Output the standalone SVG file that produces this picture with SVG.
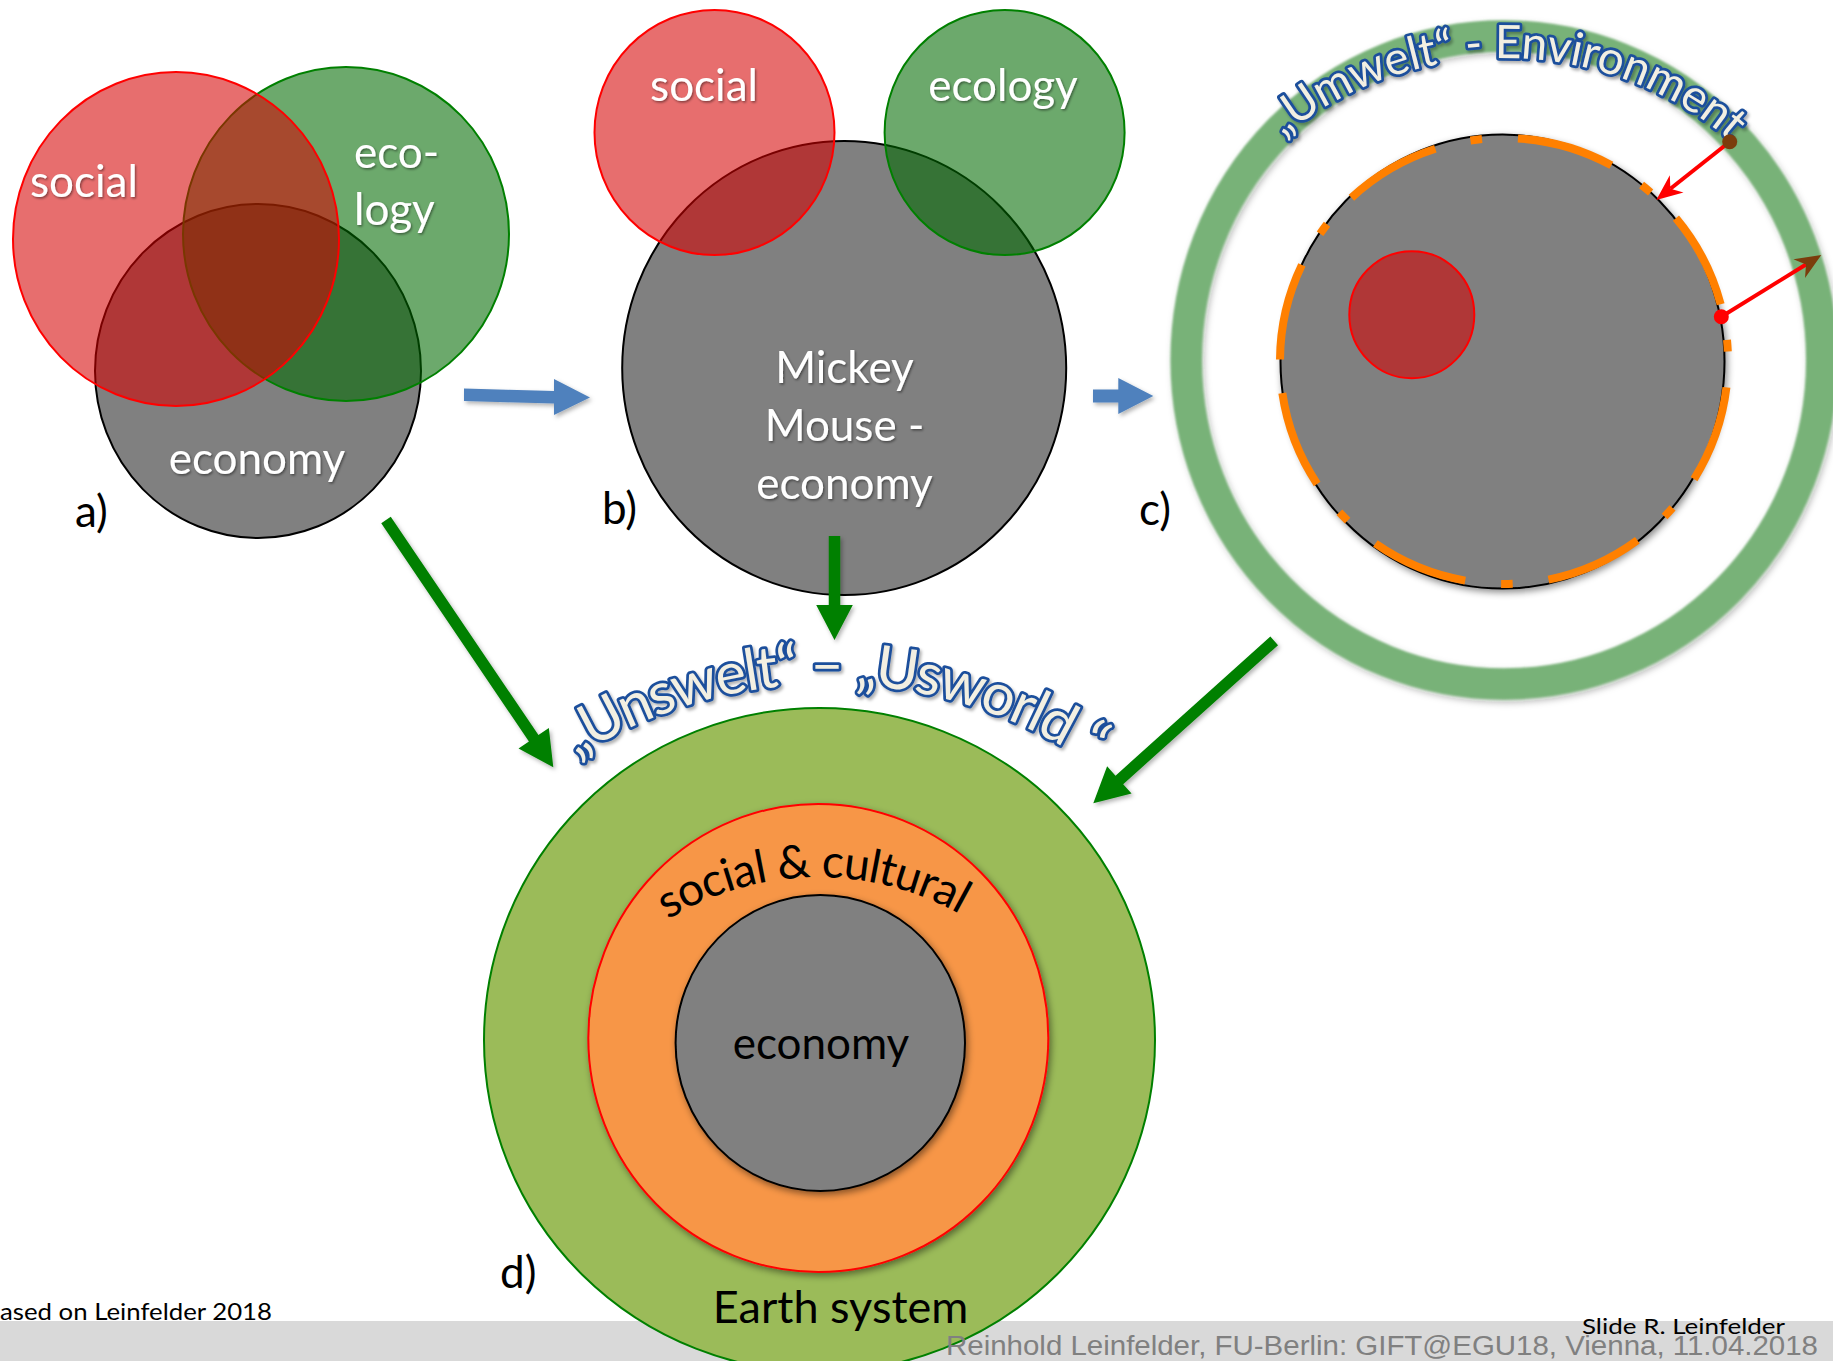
<svg xmlns="http://www.w3.org/2000/svg" width="1833" height="1361" viewBox="0 0 1833 1361">
  <defs>
    <style>
      .t{font-family:Lato,"Open Sans","DejaVu Sans",sans-serif}
      .lab{font-size:44px}
      .w{fill:#fff;filter:url(#ts)}
      .k{fill:#000}
      .gray{fill:#808080;stroke:#000;stroke-width:2}
      .red{fill:#d50000;fill-opacity:.567;stroke:#ff0000;stroke-width:2}
      .grn{fill:#006900;fill-opacity:.575;stroke:#008000;stroke-width:2}
      .blue{fill:#4f81bd;filter:url(#as)}
      .green{fill:#008000;filter:url(#as)}
      .arc{fill:#f2efe2;stroke:#1d4f9c;stroke-width:5.5;paint-order:stroke;stroke-linejoin:round;filter:url(#ts2)}
      .foot{font-family:"Liberation Sans",Arial,sans-serif}
    </style>
    <filter id="ts" x="-10%" y="-30%" width="130%" height="160%">
      <feDropShadow dx="1.2" dy="1.5" stdDeviation="1.2" flood-color="#000" flood-opacity="0.45"/>
    </filter>
    <filter id="ts2" x="-10%" y="-30%" width="130%" height="160%">
      <feDropShadow dx="2" dy="2.5" stdDeviation="1.5" flood-color="#000" flood-opacity="0.3"/>
    </filter>
    <filter id="as" x="-20%" y="-20%" width="150%" height="150%">
      <feDropShadow dx="2" dy="2.5" stdDeviation="2" flood-color="#000" flood-opacity="0.3"/>
    </filter>
    <filter id="sh" x="-10%" y="-10%" width="125%" height="125%">
      <feDropShadow dx="2" dy="3" stdDeviation="3.5" flood-color="#000" flood-opacity="0.45"/>
    </filter>
    <filter id="ringfx" x="-10%" y="-10%" width="125%" height="125%">
      <feGaussianBlur in="SourceGraphic" stdDeviation="1.2" result="s"/>
      <feDropShadow in="s" dx="2" dy="3" stdDeviation="3" flood-color="#000" flood-opacity="0.28"/>
    </filter>
    <path id="arcUmwelt" d="M 1283 137 A 328 302 0 0 1 1755.3 165.9"/>
    <path id="arcUnswelt" d="M 576.2 757.2 A 470 470 0 0 1 1117.4 783.6"/>
    <path id="arcSocial" d="M 667.8 919.5 A 288 288 0 0 1 1003.1 944.4"/>
  </defs>

  <rect width="1833" height="1361" fill="#fff"/>

  <!-- footer band -->
  <rect id="footer-band" x="0" y="1321" width="1833" height="40" fill="#d9d9d9"/>

  <!-- a) overlapping spheres -->
  <g id="node-a">
    <ellipse class="gray" cx="258" cy="371" rx="163" ry="167"/>
    <ellipse class="grn" cx="346" cy="234" rx="163" ry="167"/>
    <ellipse class="red" cx="176" cy="239" rx="163" ry="167"/>
    <text class="t lab w" x="30" y="197">social</text>
    <text class="t lab w" x="354" y="168">eco-</text>
    <text class="t lab w" x="354" y="225">logy</text>
    <text class="t lab w" x="257" y="474" text-anchor="middle">economy</text>
    <text class="t lab k" x="75" y="527">a)</text>
  </g>

  <!-- b) Mickey Mouse economy -->
  <g id="node-b">
    <ellipse class="gray" cx="844.2" cy="368" rx="222" ry="227"/>
    <ellipse class="red" cx="714.5" cy="132.5" rx="120" ry="122.6"/>
    <ellipse class="grn" cx="1004.6" cy="132.5" rx="120" ry="122.6"/>
    <text class="t lab w" x="704" y="101" text-anchor="middle">social</text>
    <text class="t lab w" x="1003" y="101" text-anchor="middle">ecology</text>
    <text class="t lab w" x="844.5" y="383" text-anchor="middle">Mickey</text>
    <text class="t lab w" x="844.5" y="441" text-anchor="middle">Mouse -</text>
    <text class="t lab w" x="844.5" y="499" text-anchor="middle">economy</text>
    <text class="t lab k" x="602" y="524">b)</text>
  </g>

  <!-- c) environment ring -->
  <g id="node-c">
    <ellipse cx="1504" cy="360" rx="317.8" ry="324" fill="none" stroke="#78b278" stroke-width="31.5" filter="url(#ringfx)"/>
    <ellipse class="gray" cx="1502.5" cy="361.5" rx="222" ry="227" stroke-width="1.5" filter="url(#sh)"/>
    <path d="M 1280 361 A 224 223 0 1 1 1728 361 A 224 223 0 1 1 1280 361" pathLength="360" fill="none" stroke="#ff8000" stroke-width="8" stroke-dasharray="25.1 9.25 3 9.25" stroke-dashoffset="-0.4"/>
    <ellipse class="red" cx="1411.8" cy="314.7" rx="62.5" ry="63.5"/>
    <text class="t arc" font-size="46"><textPath href="#arcUmwelt" textLength="486" lengthAdjust="spacing">„Umwelt“ - Environment</textPath></text>
    <g id="c-flows">
      <line x1="1729.7" y1="141.7" x2="1670.4" y2="188.8" stroke="#ff0000" stroke-width="4"/>
      <polygon points="1656.3,200 1669.8,175.2 1670.4,188.8 1683.5,192.4" fill="#ff0000"/>
      <circle cx="1729.7" cy="141.7" r="7.5" fill="#7b3d0c"/>
      <line x1="1721.3" y1="316.7" x2="1806" y2="264.5" stroke="#ff0000" stroke-width="4"/>
      <polygon points="1821.3,255 1793.4,259.3 1806,264.5 1805,278" fill="#7b3d0c"/>
      <circle cx="1721.3" cy="316.7" r="7.5" fill="#ff0000"/>
    </g>
    <text class="t lab k" x="1139" y="525">c)</text>
  </g>

  <!-- d) nested spheres -->
  <g id="node-d">
    <ellipse cx="819.5" cy="1040" rx="335.5" ry="332" fill="#9bbb59" stroke="#008000" stroke-width="2"/>
    <ellipse cx="818.3" cy="1038" rx="230" ry="234" fill="#f79646" stroke="#ff0000" stroke-width="2" filter="url(#sh)"/>
    <ellipse class="gray" cx="820.3" cy="1043" rx="144.7" ry="148" filter="url(#sh)"/>
    <text class="t k" font-size="46"><textPath href="#arcSocial" textLength="306" lengthAdjust="spacing">social &amp; cultural</textPath></text>
    <text class="t lab k" x="821" y="1059" text-anchor="middle">economy</text>
    <text class="t k" font-size="45" x="840.5" y="1323" text-anchor="middle">Earth system</text>
    <text class="t lab k" x="500" y="1288">d)</text>
    <text class="t arc" font-size="58"><textPath href="#arcUnswelt" textLength="545" lengthAdjust="spacing">„Unswelt“ – „Usworld “</textPath></text>
  </g>

  <!-- connectors -->
  <g id="connectors">
    <polygon class="blue" points="464,388.5 554,391 554,379 590,397.5 554,415 554,403.5 464,401"/>
    <polygon class="blue" points="1093,389.5 1118.3,389.5 1118.3,378 1153.3,396 1118.3,414 1118.3,402.5 1093,402.5"/>
    <polygon class="green" points="381.24,523.22 528.93,741.53 518.53,748.56 553.3,767.3 548.85,728.06 538.45,735.09 390.76,516.78"/>
    <polygon class="green" points="828.75,536 828.75,605 816.2,605 834.5,640 852.8,605 840.25,605 840.25,536"/>
    <polygon class="green" points="1270.36,636.62 1115.5,775.64 1107.12,766.3 1093.3,803.3 1131.56,793.54 1123.18,784.2 1278.04,645.18"/>
  </g>

  <!-- footer texts -->
  <g id="footer">
    <text class="t" font-size="24" x="0" y="1320" textLength="272" lengthAdjust="spacingAndGlyphs">ased on Leinfelder 2018</text>
    <text class="t" font-size="22" x="1582" y="1334" textLength="203" lengthAdjust="spacingAndGlyphs">Slide R. Leinfelder</text>
    <text class="foot" font-size="27" x="946" y="1355" fill="#808080" textLength="872" lengthAdjust="spacingAndGlyphs">Reinhold Leinfelder, FU-Berlin: GIFT@EGU18, Vienna, 11.04.2018</text>
  </g>
</svg>
